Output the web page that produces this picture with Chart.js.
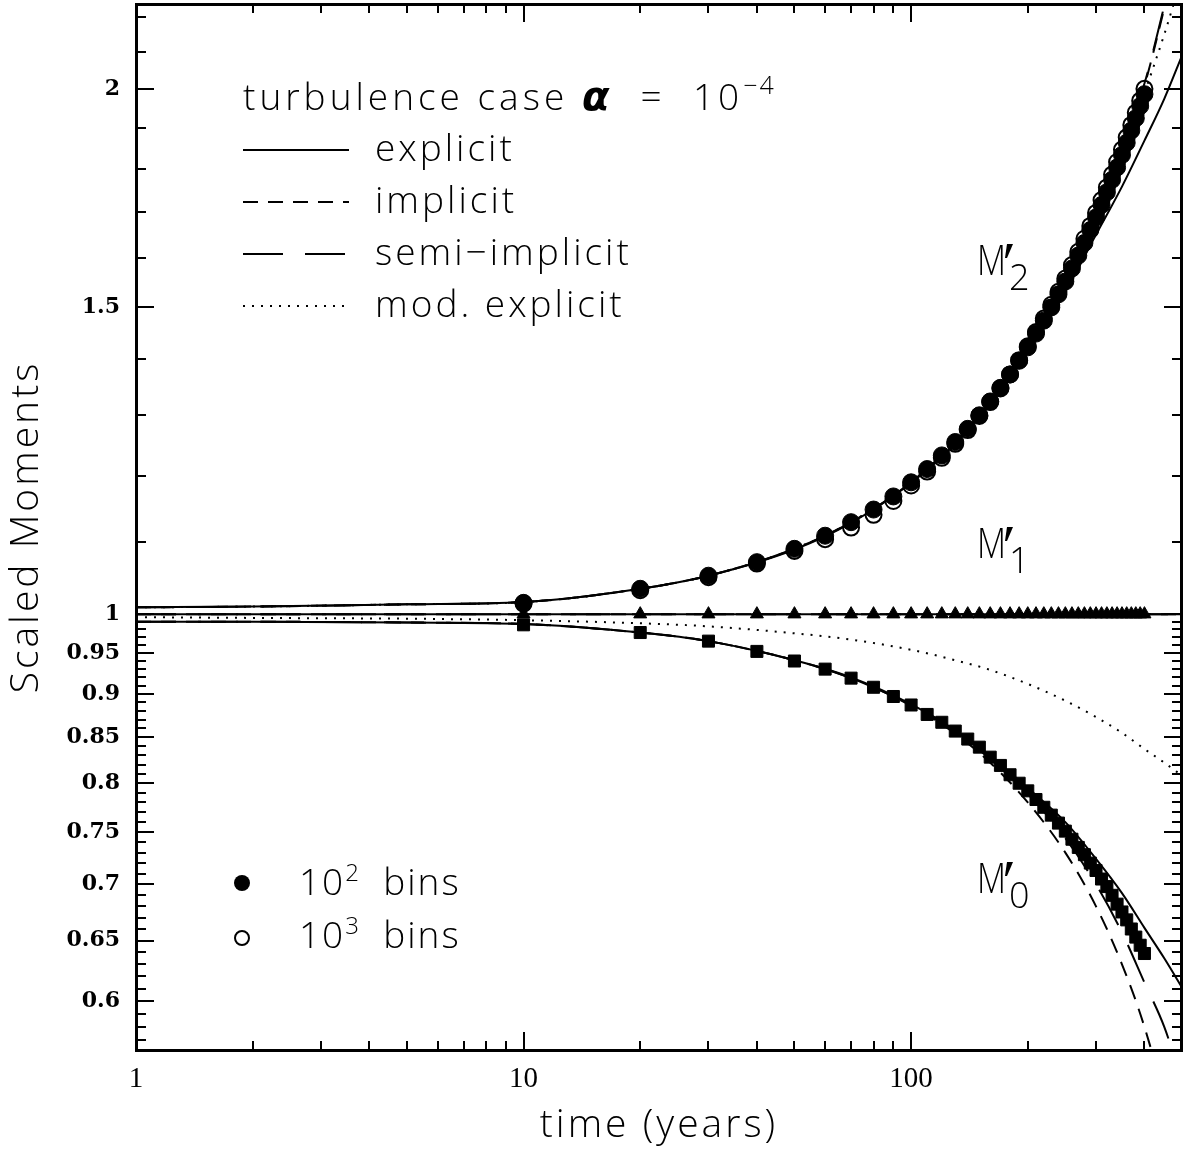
<!DOCTYPE html>
<html><head><meta charset="utf-8">
<script src="https://cdn.jsdelivr.net/npm/chart.js@4.4.1/dist/chart.umd.min.js"></script>
<style>html,body{margin:0;padding:0;background:#fff;}canvas{display:block;}</style>
</head><body>
<canvas id="c" width="1183" height="1150"></canvas>
<script>
// ---------- data ----------
const markerTimes = [10,20,30,40,50,60,70,80,90,100,110,120,130,140,150,160,170,180,190,200,210,220,230,240,250,260,270,280,290,300,310,320,330,340,350,360,370,380,390,400];
const m2Bins100 = [1.015,1.034,1.052,1.071,1.090,1.109,1.129,1.148,1.168,1.190,1.211,1.233,1.255,1.277,1.300,1.324,1.348,1.372,1.397,1.422,1.448,1.473,1.499,1.525,1.551,1.578,1.605,1.632,1.660,1.688,1.716,1.745,1.774,1.803,1.833,1.863,1.893,1.924,1.955,1.986];
const m2Bins1000 = [1.014,1.032,1.050,1.069,1.087,1.104,1.121,1.140,1.161,1.185,1.207,1.229,1.252,1.275,1.299,1.323,1.347,1.372,1.398,1.424,1.451,1.477,1.504,1.530,1.557,1.585,1.613,1.641,1.669,1.698,1.727,1.756,1.786,1.816,1.846,1.876,1.907,1.938,1.969,2.000];
const m1Bins100 = [1,1,1,1,1,1,1,1,1,1,1,1,1,1,1,1,1,1,1,1,1,1,1,1,1,1,1,1,1,1,1,1,1,1,1,1,1,1,1,1];
const m0Bins100 = [0.986,0.976,0.965,0.952,0.940,0.930,0.919,0.908,0.897,0.887,0.876,0.867,0.857,0.848,0.839,0.828,0.819,0.809,0.800,0.792,0.783,0.775,0.767,0.759,0.751,0.743,0.735,0.728,0.720,0.713,0.705,0.698,0.690,0.682,0.675,0.668,0.660,0.653,0.646,0.639];

const curveTimes = [1,2,5,10,20,30,50,70,100,130,160,200,250,300,350,400,450,500];
const m2Explicit     = [1.009,1.010,1.013,1.016,1.034,1.052,1.089,1.128,1.189,1.252,1.320,1.412,1.530,1.650,1.758,1.868,1.974,2.090];
const m2Implicit     = [1.009,1.010,1.013,1.016,1.034,1.052,1.090,1.129,1.190,1.255,1.324,1.422,1.553,1.693,1.845,2.009,2.225,2.460];
const m2SemiImplicit = [1.009,1.010,1.013,1.016,1.034,1.052,1.090,1.129,1.190,1.255,1.325,1.424,1.556,1.697,1.850,2.014,2.232,2.470];
const m2ModExplicit  = [1.009,1.010,1.013,1.016,1.034,1.052,1.090,1.129,1.190,1.255,1.324,1.422,1.551,1.688,1.832,1.989,2.149,2.320];
const m1Explicit     = [1,1,1,1,1,1,1,1,1,1,1,1,1,1,1,1,1,1];
const m1Implicit     = [1,1,1,1,1,1,1,1,1,1,1,1,1,1,1,1,1,1];
const m1SemiImplicit = [1,1,1,1,1,1,1,1,1,1,1,1,1,1,1,1,1,1];
const m0Explicit     = [0.990,0.990,0.989,0.987,0.976,0.965,0.941,0.920,0.888,0.858,0.829,0.795,0.760,0.724,0.692,0.661,0.635,0.611];
const m0Implicit     = [0.990,0.990,0.989,0.987,0.976,0.965,0.941,0.919,0.886,0.854,0.822,0.780,0.730,0.680,0.630,0.580,0.527,0.470];
const m0SemiImplicit = [0.990,0.990,0.989,0.987,0.976,0.965,0.941,0.919,0.887,0.856,0.826,0.789,0.744,0.700,0.657,0.615,0.580,0.540];
const m0ModExplicit  = [0.996,0.995,0.994,0.992,0.988,0.984,0.975,0.967,0.954,0.941,0.929,0.912,0.892,0.873,0.855,0.837,0.822,0.808];

const xMajorTicks = [1,10,100];
const xMinorTicks = [2,3,4,5,6,7,8,9,20,30,40,50,60,70,80,90,200,300,400];
const xTickLabels = ['1','10','100'];
const yMajorTicks = [0.6,0.65,0.7,0.75,0.8,0.85,0.9,0.95,1,1.5,2];
const yTickLabels = ['0.6','0.65','0.7','0.75','0.8','0.85','0.9','0.95','1','1.5','2'];
const yMinorTicks = [0.57,0.58,0.59,0.61,0.62,0.63,0.64,0.66,0.67,0.68,0.69,0.71,0.72,0.73,0.74,0.76,0.77,0.78,0.79,0.81,0.82,0.83,0.84,0.86,0.87,0.88,0.89,0.91,0.92,0.93,0.94,0.96,0.97,0.98,0.99,1.1,1.2,1.3,1.4,1.6,1.7,1.8,1.9,2.1,2.2];
const xRange = [1, 500];
const yRange = [0.5626, 2.237];

// ---------- build ----------
const pts = (xs, ys) => xs.map((x, i) => ({x, y: ys[i]}));
const SOLID = [], SHORT = [15, 10], LONG = [40, 22], DOT = [2, 7];
function curve(label, ys, dash) {
  return {label, data: pts(curveTimes, ys), borderColor:'#000', borderWidth: 2, borderDash: dash,
    pointRadius: 0, cubicInterpolationMode:'monotone', fill:false, order: 3};
}
function markers(label, ys, style, r, filled, order) {
  return {label, data: pts(markerTimes, ys), showLine:false, pointStyle: style, pointRadius: r,
    pointHoverRadius: r, pointBackgroundColor: filled ? '#000' : 'rgba(0,0,0,0)', pointBorderColor:'#000',
    pointBorderWidth: filled ? 1 : 2, order};
}
const datasets = [
  curve('M2 explicit', m2Explicit, SOLID),
  curve('M2 implicit', m2Implicit, SHORT),
  curve('M2 semi-implicit', m2SemiImplicit, LONG),
  curve('M2 mod. explicit', m2ModExplicit, DOT),
  curve('M1 explicit', m1Explicit, SOLID),
  curve('M1 implicit', m1Implicit, SHORT),
  curve('M1 semi-implicit', m1SemiImplicit, LONG),
  curve('M0 explicit', m0Explicit, SOLID),
  curve('M0 implicit', m0Implicit, SHORT),
  curve('M0 semi-implicit', m0SemiImplicit, LONG),
  curve('M0 mod. explicit', m0ModExplicit, DOT),
  markers('M2 10^3 bins', m2Bins1000, 'circle', 8, false, 1),
  markers('M2 10^2 bins', m2Bins100, 'circle', 8.5, true, 0),
  markers('M1 10^2 bins', m1Bins100, 'triangle', 7.5, true, 0),
  markers('M0 10^2 bins', m0Bins100, 'rect', 8.5, true, 0)
];

const SANS = '"Open Sans", "DejaVu Sans", sans-serif';
function runs(ctx, x, y, parts) {
  for (const p of parts) {
    ctx.font = p.f;
    ctx.letterSpacing = (p.ls || 0) + 'px';
    ctx.fillText(p.t, x, y + (p.dy || 0));
    x += ctx.measureText(p.t).width;
  }
  ctx.letterSpacing = '0px';
  return x;
}

const decor = {
  id: 'decor',
  afterDraw(chart) {
    const {ctx, chartArea: a, scales: {x, y}} = chart;
    ctx.save();
    ctx.strokeStyle = '#000'; ctx.fillStyle = '#000';
    // ticks (inside, all four sides)
    ctx.lineWidth = 2;
    ctx.beginPath();
    const vt = (v, len) => { const p = Math.round(x.getPixelForValue(v));
      ctx.moveTo(p, a.bottom); ctx.lineTo(p, a.bottom - len); ctx.moveTo(p, a.top); ctx.lineTo(p, a.top + len); };
    const ht = (v, len) => { const p = Math.round(y.getPixelForValue(v));
      ctx.moveTo(a.left, p); ctx.lineTo(a.left + len, p); ctx.moveTo(a.right, p); ctx.lineTo(a.right - len, p); };
    xMajorTicks.forEach(v => vt(v, 18)); xMinorTicks.forEach(v => vt(v, 9));
    yMajorTicks.forEach(v => ht(v, 18)); yMinorTicks.forEach(v => ht(v, 10));
    ctx.stroke();
    ctx.lineWidth = 3;
    ctx.strokeRect(a.left + 0.5, a.top + 0.5, a.right - a.left - 1, a.bottom - a.top);

    // legend (line styles)
    ctx.textBaseline = 'alphabetic'; ctx.textAlign = 'left';
    const F = '300 37px ' + SANS;
    runs(ctx, 243, 110, [
      {t:'turbulence case ', f:F, ls:4},
      {t:'α', f:'italic bold 40px "DejaVu Sans", sans-serif', ls:4},
      {t:'  =  10', f:F, ls:4},
      {t:'−4', f:'300 25px ' + SANS, dy:-16, ls:2}
    ]);
    const rows = [['explicit', SOLID, 161], ['implicit', SHORT, 213], ['semi−implicit', LONG, 265], ['mod. explicit', DOT, 317]];
    ctx.lineWidth = 2;
    for (const [t, d, b] of rows) {
      ctx.setLineDash(d);
      ctx.beginPath(); ctx.moveTo(243, b - 11); ctx.lineTo(349, b - 11); ctx.stroke();
      ctx.setLineDash([]);
      runs(ctx, 375, b, [{t, f:F, ls:3}]);
    }
    // legend (markers)
    ctx.beginPath(); ctx.arc(242, 883, 8, 0, Math.PI * 2); ctx.fill();
    ctx.beginPath(); ctx.arc(242, 938, 7, 0, Math.PI * 2); ctx.stroke();
    const FB = '300 37px ' + SANS;
    runs(ctx, 299, 895, [{t:'10', f:FB, ls:2}, {t:'2', f:'300 24px ' + SANS, dy:-14, ls:1}, {t:'  bins', f:FB, ls:2}]);
    runs(ctx, 299, 948, [{t:'10', f:FB, ls:2}, {t:'3', f:'300 24px ' + SANS, dy:-14, ls:1}, {t:'  bins', f:FB, ls:2}]);

    // moment labels  M′ with subscript
    const mlab = (bx, by, sub) => {
      ctx.save(); ctx.translate(bx, by); ctx.scale(0.8, 1);
      ctx.font = '300 42px ' + SANS; ctx.fillText('M', 0, 0);
      ctx.restore();
      ctx.beginPath();
      ctx.moveTo(bx + 30, by - 31); ctx.lineTo(bx + 36, by - 31); ctx.lineTo(bx + 30, by - 17); ctx.lineTo(bx + 28, by - 17);
      ctx.closePath(); ctx.fill();
      ctx.font = '300 36px ' + SANS; ctx.fillText(sub, bx + 32, by + 15);
    };
    mlab(977, 275, '2'); mlab(977, 558, '1'); mlab(977, 893, '0');

    // axis titles
    ctx.textAlign = 'center'; ctx.textBaseline = 'middle';
    ctx.font = '300 39px ' + SANS; ctx.letterSpacing = '3px';
    ctx.fillText('time (years)', (a.left + a.right) / 2, 1126);
    ctx.save();
    ctx.translate(27, (a.top + a.bottom) / 2); ctx.rotate(-Math.PI / 2);
    ctx.font = '300 39px ' + SANS; ctx.letterSpacing = '3px';
    ctx.fillText('Scaled Moments', 0, 0);
    ctx.restore();
    ctx.restore();
  }
};

new Chart(document.getElementById('c'), {
  type: 'line',
  data: {datasets},
  options: {
    responsive: false, animation: false, devicePixelRatio: 1,
    layout: {autoPadding: false, padding: {top: 4, right: 1, left: 0, bottom: 0}},
    plugins: {legend: {display: false}, tooltip: {enabled: false}},
    scales: {
      x: {
        type: 'logarithmic', position: 'bottom', min: xRange[0], max: xRange[1],
        grid: {display: false, drawTicks: false}, border: {display: false},
        afterBuildTicks: s => { s.ticks = xMajorTicks.map(v => ({value: v})); },
        afterFit: s => { s.height = 100; s.paddingLeft = 0; s.paddingRight = 0; s.paddingTop = 0; s.paddingBottom = 0; },
        ticks: {autoSkip: false, maxRotation: 0, padding: 12, color: '#000',
          font: {family: '"Liberation Serif", serif', size: 29},
          callback: v => xTickLabels[xMajorTicks.indexOf(v)] ?? ''}
      },
      y: {
        type: 'logarithmic', position: 'left', min: yRange[0], max: yRange[1],
        grid: {display: false, drawTicks: false}, border: {display: false},
        afterBuildTicks: s => { s.ticks = yMajorTicks.map(v => ({value: v})); },
        afterFit: s => { s.width = 136; s.paddingTop = 0; s.paddingBottom = 0; s.paddingLeft = 0; s.paddingRight = 0; },
        ticks: {autoSkip: false, padding: 16, color: '#000',
          font: {family: '"DejaVu Serif", serif', size: 22, weight: 'bold'},
          callback: v => yTickLabels[yMajorTicks.indexOf(v)] ?? ''}
      }
    }
  },
  plugins: [decor]
});
</script>
</body></html>
